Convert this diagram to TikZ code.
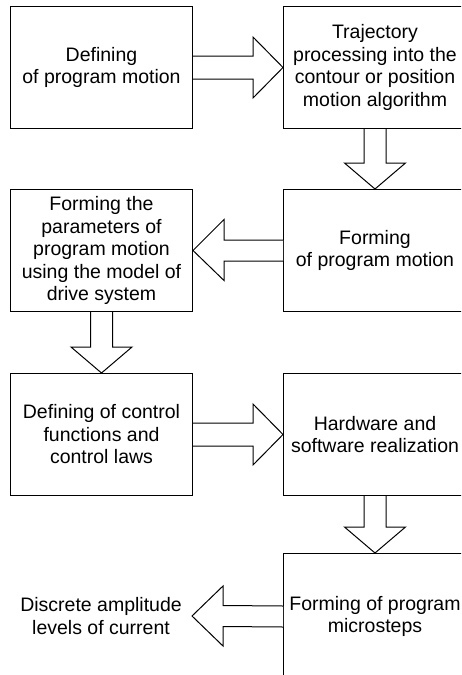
\documentclass[tikz,border=0pt]{standalone}
\usepackage{fontspec}
\setmainfont{Liberation Sans}
\usetikzlibrary{calc}
\begin{document}
\begin{tikzpicture}[x=1pt,y=-1pt,
  box/.style={draw,line width=1pt,minimum width=182pt,minimum height=122pt,inner sep=0pt,align=center,anchor=north west,font=\fontsize{19.5}{22.5}\selectfont},
  lbl/.style={inner sep=0pt,align=center,font=\fontsize{19.5}{22.5}\selectfont},
  blk/.style={draw,line width=1pt,fill=white,line join=miter}]
\clip (0,0) rectangle (461,675);
\fill[white] (0,0) rectangle (461,675);
% nodes
\node[box] (b1) at (10,6) {Defining\\of program motion};
\node[box,minimum width=183pt] (b2) at (283,6) {Trajectory\\processing into the\\contour or position\\motion algorithm};
\node[box,minimum width=183pt] (b3) at (283,189) {Forming\\of program motion};
\node[box] (b4) at (10,189) {Forming the\\parameters of\\program motion\\using the model of\\drive system};
\node[box] (b5) at (10,373) {Defining of control\\functions and\\control laws};
\node[box,minimum width=183pt] (b6) at (283,373) {Hardware and\\software realization};
\node[box,minimum width=183pt,minimum height=126pt] (b7) at (283,553) {Forming of program\\microsteps};
\node[lbl] (t8) at (101,616) {Discrete amplitude\\levels of current};
% right block arrows
\foreach \a/\b in {b1/b2,b5/b6}{
  \draw[blk] ($(\a.east)+(0,-11.5)$) -- ($(\b.west)+(-30,-11.5)$) -- ($(\b.west)+(-30,-30.5)$) -- (\b.west)
    -- ($(\b.west)+(-30,30.5)$) -- ($(\b.west)+(-30,11.5)$) -- ($(\a.east)+(0,11.5)$);
}
% left block arrows
\draw[blk] ($(b3.west)+(0,-10.5)$) -- ($(b4.east)+(31,-10.5)$) -- ($(b4.east)+(31,-31)$) -- (b4.east)
    -- ($(b4.east)+(31,30)$) -- ($(b4.east)+(31,10.5)$) -- ($(b3.west)+(0,10.5)$);
\coordinate (c8) at (192,616);
\draw[blk] ($(b7.west)+(0,-10.5)$) -- ($(c8)+(31,-10.5)$) -- ($(c8)+(31,-30)$) -- (c8)
    -- ($(c8)+(31,30)$) -- ($(c8)+(31,10.5)$) -- ($(b7.west)+(0,10.5)$);
% down block arrows
\foreach \a/\b in {b2/b3,b4/b5,b6/b7}{
  \draw[blk] ($(\a.south)+(-11,0)$) -- ($(\b.north)+(-11,-26)$) -- ($(\b.north)+(-30.5,-26)$) -- (\b.north)
    -- ($(\b.north)+(30.5,-26)$) -- ($(\b.north)+(11,-26)$) -- ($(\a.south)+(11,0)$);
}
\end{tikzpicture}
\end{document}
